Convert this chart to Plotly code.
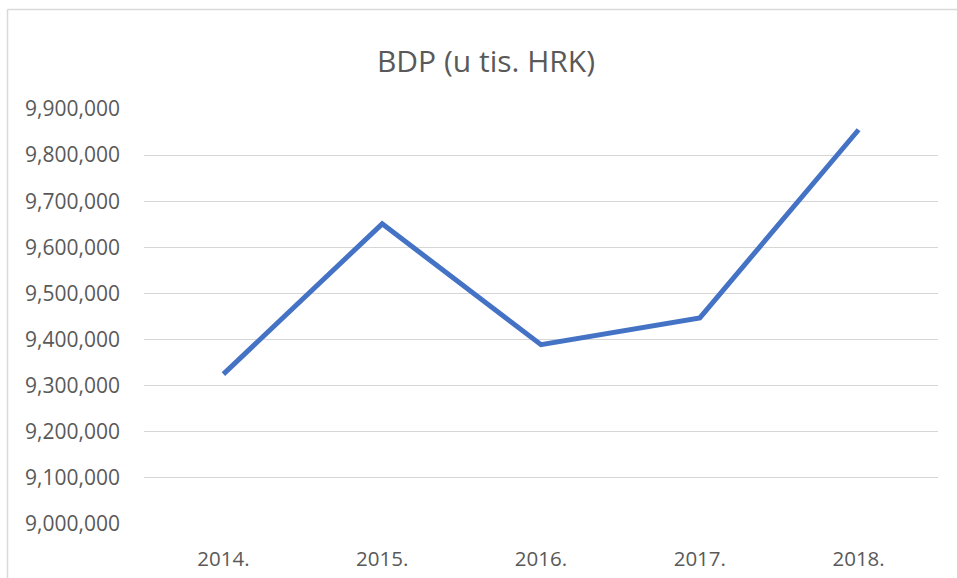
import plotly.graph_objects as go

years = ["2014.", "2015.", "2016.", "2017.", "2018."]
bdp = [9325000, 9651000, 9389000, 9447000, 9855000]

W, H = 957, 578
L, R, T, B = 144, W - 938, 109, H - 524
pw, ph = W - L - R, H - T - B

def px_x(p):
    return (p - L) / pw

def px_y(p):
    return (H - B - p) / ph

fig = go.Figure()
fig.add_trace(go.Scatter(
    x=years, y=bdp, mode="lines",
    line=dict(color="#4472C4", width=5),
    hoverinfo="skip", showlegend=False,
))

border = dict(color="#D9D9D9", width=1.5)
fig.update_layout(
    width=W, height=H,
    margin=dict(l=L, r=R, t=T, b=B, autoexpand=False),
    paper_bgcolor="white", plot_bgcolor="white",
    font=dict(family="Open Sans", color="#595959"),
    title=dict(text="BDP (u tis. HRK)", x=486 / W, xref="container", xanchor="center",
               y=1 - 61 / H, yref="container", yanchor="middle",
               font=dict(size=30, color="#595959", family="Open Sans")),
    xaxis=dict(type="category", range=[-0.5, 4.5], showgrid=False, showline=False,
               zeroline=False, ticks="", tickfont=dict(size=20.5, color="#595959"),
               ticklabelstandoff=20, automargin=False),
    yaxis=dict(range=[9000000, 9900000], dtick=100000, tickformat=",",
               showgrid=True, gridcolor="#D6D6D6", gridwidth=1.4, showline=False,
               zeroline=False, ticks="", tickfont=dict(size=21, color="#595959"),
               ticklabelstandoff=23, automargin=False),
    shapes=[
        dict(type="line", xref="paper", yref="paper",
             x0=px_x(7.5), x1=px_x(1000), y0=px_y(9.5), y1=px_y(9.5),
             line=border, layer="below"),
        dict(type="line", xref="paper", yref="paper",
             x0=px_x(7.5), x1=px_x(7.5), y0=px_y(9.5), y1=px_y(620),
             line=border, layer="below"),
    ],
)

fig.write_html(
    "out.html",
    config={"displayModeBar": False},
    post_script="document.body.style.margin='0';document.body.style.overflow='hidden';"
                "document.documentElement.style.overflow='hidden';",
)
